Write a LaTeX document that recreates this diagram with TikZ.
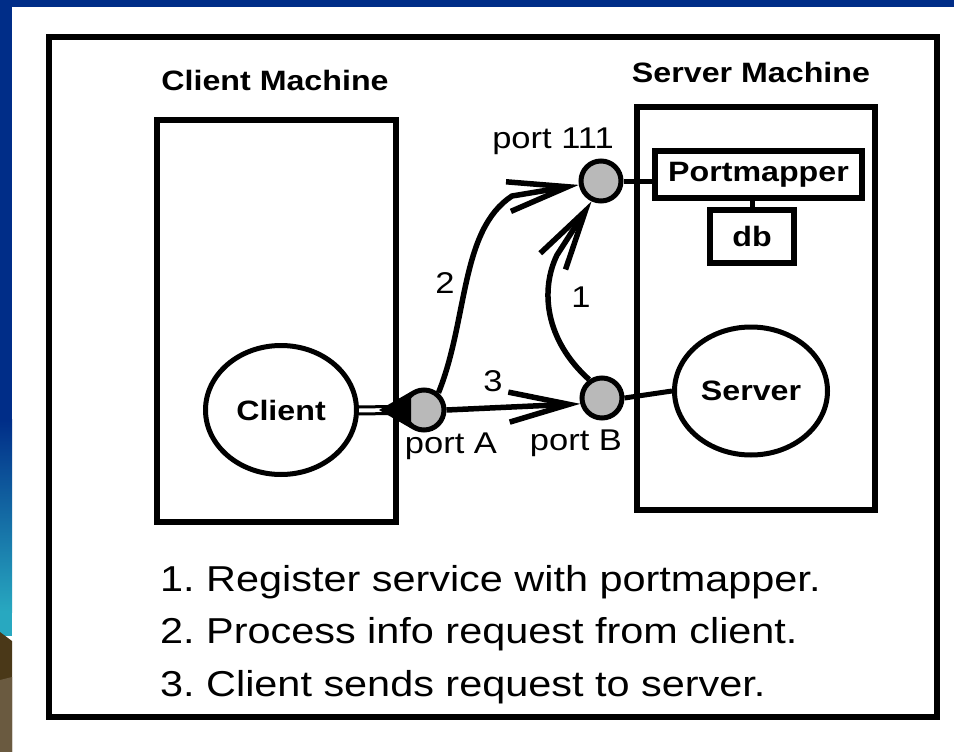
\documentclass[tikz,border=0pt]{standalone}
\usepackage{fontspec}
\setmainfont{Liberation Sans}
\newfontfamily\lab[FakeStretch=1.15]{Liberation Sans}
\usetikzlibrary{arrows.meta,shapes.geometric}
\definecolor{slideblue}{RGB}{0,45,136}
\definecolor{slideteal}{RGB}{40,168,192}
\definecolor{browndark}{RGB}{74,56,24}
\definecolor{brownlight}{RGB}{106,90,64}
\definecolor{portfill}{RGB}{185,185,185}
\frenchspacing
\begin{document}
\begin{tikzpicture}[x=1pt,y=-1pt,
  frame/.style={draw,line width=6pt},
  machine/.style={draw,line width=5.5pt},
  port/.style={circle,draw,line width=5pt,fill=portfill,minimum size=40pt,inner sep=0pt},
  proc/.style={ellipse,draw,line width=5pt,inner sep=0pt,font=\lab\bfseries\fontsize{28}{30}\selectfont},
  sbox/.style={rectangle,draw,line width=6pt,inner sep=0pt,font=\lab\bfseries\fontsize{28}{30}\selectfont},
  title/.style={font=\lab\bfseries\fontsize{28}{30}\selectfont},
  lbl/.style={font=\lab\fontsize{30}{32}\selectfont,inner sep=0pt},
  item/.style={font=\lab\fontsize{36}{40}\selectfont,anchor=base west,inner sep=0pt},
  conn/.style={line width=5pt},
  arr/.style={line width=5.5pt,-{Straight Barb[length=60pt,width=30pt]}}]
\useasboundingbox (0,0) rectangle (954,752);
% slide background
\fill[white] (0,0) rectangle (954,752);
\fill[slideblue] (0,0) rectangle (954,7);
\fill[slideblue] (0,0) rectangle (12,420);
\shade[top color=slideblue,bottom color=slideteal] (0,419) rectangle (12,612);
\fill[slideteal] (0,611) rectangle (12,636);
\fill[browndark] (0,632) -- (12,641) -- (12,752) -- (0,752) -- cycle;
\fill[brownlight] (0,680) -- (12,677) -- (12,752) -- (0,752) -- cycle;
% frame
\draw[frame] (49,37) rectangle (937,717);
% machines
\draw[machine] (157,120) rectangle (396,522);
\draw[machine] (637,107) rectangle (875,510);
\node[title] (ctitle) at (275,80) {Client Machine};
\node[title] (stitle) at (751,72) {Server Machine};
% nodes
\node[proc,minimum width=151pt,minimum height=129pt] (cl) at (281,410) {Client};
\node[proc,minimum width=153pt,minimum height=128pt] (srv) at (751,391) {Server};
\node[sbox,minimum width=207pt,minimum height=47pt] (pm) at (758.5,174.5) {Portmapper};
\node[sbox,minimum width=84pt,minimum height=53pt] (db) at (752,236.5) {db};
\node[port] (p111) at (601,181) {};
\node[port] (pB) at (602,398) {};
% client to port A
\coordinate (pAc) at (424,410);
\draw[line width=3pt] ([yshift=3pt]cl.east) -- ([yshift=4pt]pAc);
\draw[line width=3pt] ([yshift=-4pt]cl.east) -- ([yshift=-3pt]pAc);
\node[port] (pA) at (pAc) {};
\fill ([xshift=20pt]cl.east) -- (pA.125) -- (pA.235) -- cycle;
% connectors
\draw[conn] (p111.east) -- (p111.east -| pm.west);
\draw[conn] (db.north) -- (db.north |- pm.south);
\draw[conn] (pB.east) -- (srv.west);
% arrows
\draw[arr] (pA.50) .. controls (468,320) and (460,230) .. (512,196) -- (p111.190);
\draw[arr] (pB.125) .. controls (545,340) and (540,290) .. (557,255) -- (p111.245);
\draw[arr] (pA.east) -- (pB.195);
% labels
\node[lbl] (l111) at (553,141) {port 111};
\node[lbl] (lA) at (451,446) {port A};
\node[lbl] (lB) at (576,443) {port B};
\node[lbl] (n2) at (445,283) {2};
\node[lbl] (n1) at (581,297) {1};
\node[lbl] (n3) at (493,381) {3};
% list
\node[item] (i1) at (160,591) {1. Register service with portmapper.};
\node[item] (i2) at (160,643) {2. Process info request from client.};
\node[item] (i3) at (160,696) {3. Client sends request to server.};
\end{tikzpicture}
\end{document}
